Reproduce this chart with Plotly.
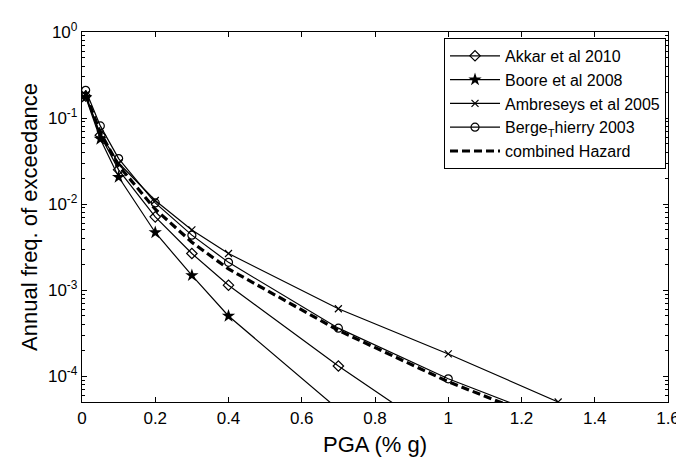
import plotly.graph_objects as go

pga = [0.01, 0.05, 0.1, 0.2, 0.3, 0.4, 0.7, 1.0, 1.3]
akkar = [0.18, 0.063, 0.025, 0.0071, 0.00266, 0.00114, 1.31e-4, 1.78e-5]
boore = [0.175, 0.057, 0.0206, 0.00467, 0.00148, 0.0005, 4.1e-5]
ambraseys = [0.185, 0.065, 0.030, 0.011, 0.005, 0.00266, 6.07e-4, 1.81e-4, 5.0e-5]
berge = [0.21, 0.081, 0.0338, 0.0103, 0.00435, 0.0021, 3.61e-4, 9.3e-5, 3.0e-5]
combined = [0.19, 0.068, 0.028, 0.0087, 0.0036, 0.00176, 3.4e-4, 8.6e-5, 2.7e-5]

names = ["Akkar et al 2010", "Boore et al 2008", "Ambreseys et al 2005",
         "Berge<sub>T</sub>hierry 2003", "combined Hazard"]

x_ticks = [0, 0.2, 0.4, 0.6, 0.8, 1.0, 1.2, 1.4, 1.6]
x_ticktext = ["0", "0.2", "0.4", "0.6", "0.8", "1", "1.2", "1.4", "1.6"]
y_ticks = [1, 0.1, 0.01, 0.001, 0.0001]
y_ticktext = ["10<sup>0</sup>", "10<sup>-1</sup>", "10<sup>-2</sup>", "10<sup>-3</sup>", "10<sup>-4</sup>"]

FONT = "Liberation Sans, Arial, sans-serif"

fig = go.Figure()
line = dict(color="black", width=1.2)

fig.add_trace(go.Scatter(x=pga[:len(akkar)], y=akkar, name=names[0], mode="lines+markers",
                         line=line, marker=dict(symbol="diamond-open", size=8, color="black",
                                                line=dict(width=1.2, color="black"))))
fig.add_trace(go.Scatter(x=pga[:len(boore)], y=boore, name=names[1], mode="lines+markers",
                         line=line, marker=dict(symbol="star", size=10, color="black")))
fig.add_trace(go.Scatter(x=pga[:len(ambraseys)], y=ambraseys, name=names[2], mode="lines+markers",
                         line=line, marker=dict(symbol="x-thin-open", size=7, color="black",
                                                line=dict(width=1.2, color="black"))))
fig.add_trace(go.Scatter(x=pga[:len(berge)], y=berge, name=names[3], mode="lines+markers",
                         line=line, marker=dict(symbol="circle-open", size=8, color="black",
                                                line=dict(width=1.2, color="black"))))
fig.add_trace(go.Scatter(x=pga[:len(combined)], y=combined, name=names[4], mode="lines",
                         line=dict(color="black", width=3.2, dash="8px,4px")))

axis_common = dict(showgrid=False, zeroline=False, showline=True, linecolor="black", linewidth=1.3,
                   mirror="allticks", ticks="inside", tickcolor="black", ticklen=5, tickwidth=1,
                   tickfont=dict(family=FONT, size=17, color="black"),
                   title_font=dict(family=FONT, size=22, color="black"))

fig.update_xaxes(range=[0, 1.6], tickvals=x_ticks, ticktext=x_ticktext,
                 title_text="PGA (% g)", title_standoff=10, **axis_common)
fig.update_yaxes(type="log", range=[-4.301, 0], tickvals=y_ticks, ticktext=y_ticktext,
                 title_text="Annual freq. of exceedance", title_standoff=4,
                 minor=dict(ticks="inside", ticklen=3, tickcolor="black", dtick="D1", showgrid=False),
                 **axis_common)

fig.update_layout(
    width=684, height=457,
    margin=dict(l=74, r=18, t=17, b=58),
    paper_bgcolor="white", plot_bgcolor="white",
    font=dict(family=FONT, color="black"),
    legend=dict(x=0.9966, y=0.984, xanchor="right", yanchor="top",
                bgcolor="white", bordercolor="black", borderwidth=1,
                font=dict(family=FONT, size=16, color="black"), itemwidth=50, tracegroupgap=0),
    showlegend=True,
)

fig.write_html("out.html")
